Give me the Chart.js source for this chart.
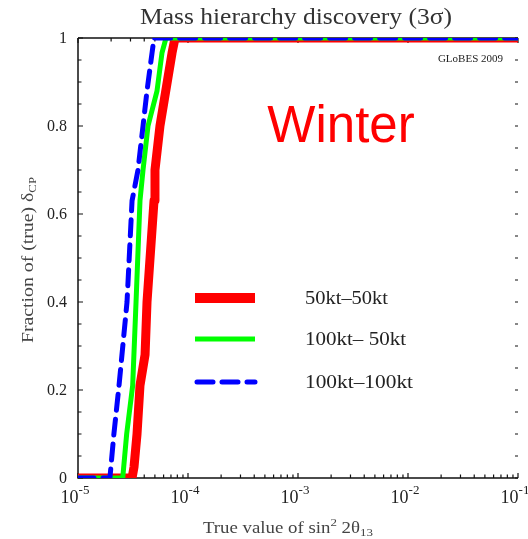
<!DOCTYPE html>
<html>
<head>
<meta charset="utf-8">
<script src="https://cdn.jsdelivr.net/npm/chart.js@4/dist/chart.umd.min.js"></script>
<style>
  html, body { margin: 0; padding: 0; background: #fff; }
  #wrap { width: 528px; height: 539px; }
</style>
</head>
<body>
<div id="wrap"><canvas id="chart" width="528" height="539"></canvas></div>
<script>
// Axis ticks
const xDecades = [1e-5, 1e-4, 1e-3, 1e-2, 1e-1];
const xExponents = ['-5', '-4', '-3', '-2', '-1'];
const yTicks = [0, 0.2, 0.4, 0.6, 0.8, 1];
const yTickLabels = ['0', '0.2', '0.4', '0.6', '0.8', '1'];

// Series: true sin^2 2theta13 vs fraction of delta_CP
const seriesNames = ['50kt\u201350kt', '100kt\u2013 50kt', '100kt\u2013100kt'];
const redX = [1e-5, 3.10e-5, 3.23e-5, 3.44e-5, 3.66e-5, 4.07e-5, 4.24e-5, 4.91e-5, 5.01e-5, 5.56e-5, 7.16e-5, 7.62e-5, 1e-1];
const redY = [0, 0, 0.025, 0.10, 0.21, 0.28, 0.40, 0.63, 0.70, 0.80, 0.966, 1, 1];
const greenX = [1e-5, 2.55e-5, 2.77e-5, 3.14e-5, 3.37e-5, 3.66e-5, 3.90e-5, 4.33e-5, 5.23e-5, 5.80e-5, 6.31e-5, 1e-1];
const greenY = [0, 0, 0.10, 0.21, 0.40, 0.63, 0.70, 0.80, 0.88, 0.966, 1, 1];
const blueX = [1e-5, 1.95e-5, 2.12e-5, 2.36e-5, 2.79e-5, 3.10e-5, 3.51e-5, 3.90e-5, 4.24e-5, 4.71e-5, 4.91e-5, 1e-1];
const blueY = [0, 0, 0.10, 0.21, 0.40, 0.63, 0.70, 0.80, 0.88, 0.966, 1, 1];

const serif = '"Liberation Serif", "DejaVu Serif", serif';

function toPoints(xs, ys) {
  return xs.map((x, i) => ({ x: x, y: ys[i] }));
}

// draws a run of [text, size, dy] pieces squeezed/stretched to a given width, centred on cx
function fillRun(ctx, pieces, cx, y, width) {
  let natural = 0;
  pieces.forEach(p => {
    ctx.font = p[1] + 'px ' + serif;
    natural += ctx.measureText(p[0]).width;
  });
  const k = width / natural;
  ctx.save();
  ctx.translate(cx - width / 2, y);
  ctx.scale(k, 1);
  ctx.textAlign = 'left';
  ctx.textBaseline = 'alphabetic';
  let x = 0;
  pieces.forEach(p => {
    ctx.font = p[1] + 'px ' + serif;
    ctx.fillText(p[0], x, p[2]);
    x += ctx.measureText(p[0]).width;
  });
  ctx.restore();
}

// Frame and inward ticks, under the curves
const frame = {
  id: 'frame',
  beforeDatasetsDraw(chart) {
    const ctx = chart.ctx;
    const area = chart.chartArea;
    const xs = chart.scales.x;
    const ys = chart.scales.y;
    ctx.save();
    ctx.strokeStyle = '#111';
    ctx.lineWidth = 1.5;
    ctx.beginPath();
    ctx.moveTo(area.left, area.top);
    ctx.lineTo(area.left, area.bottom);
    ctx.lineTo(area.right, area.bottom);
    ctx.moveTo(area.left, area.top);
    ctx.lineTo(area.right, area.top);
    ctx.stroke();

    ctx.lineWidth = 1.2;
    ctx.beginPath();
    for (let d = 0; d < xDecades.length; d++) {
      const mults = d === xDecades.length - 1 ? [1] : [1, 2, 3, 4, 5, 6, 7, 8, 9];
      mults.forEach(m => {
        const px = xs.getPixelForValue(xDecades[d] * m);
        const len = m === 1 ? 5 : 3.5;
        ctx.moveTo(px, area.bottom);
        ctx.lineTo(px, area.bottom - len);
        ctx.moveTo(px, area.top);
        ctx.lineTo(px, area.top + len);
      });
    }
    for (let i = 0; i <= 20; i++) {
      const py = ys.getPixelForValue(i * 0.05);
      const len = i % 4 === 0 ? 5 : 3.5;
      ctx.moveTo(area.left, py);
      ctx.lineTo(area.left + len, py);
      ctx.moveTo(area.right, py);
      ctx.lineTo(area.right - 3, py);
    }
    ctx.stroke();
    ctx.restore();
  }
};

// Tick labels, titles, stamp and legend
const decorations = {
  id: 'decorations',
  afterDatasetsDraw(chart) {
    const ctx = chart.ctx;
    const xs = chart.scales.x;
    const ys = chart.scales.y;
    ctx.save();

    // x tick labels 10^n
    ctx.fillStyle = '#222';
    ctx.textBaseline = 'alphabetic';
    xDecades.forEach((v, i) => {
      const px = xs.getPixelForValue(v) - 3;
      ctx.font = '18px ' + serif;
      const wBase = ctx.measureText('10').width;
      ctx.font = '13px ' + serif;
      const wExp = ctx.measureText(xExponents[i]).width;
      const start = px - (wBase + wExp) / 2;
      ctx.font = '18px ' + serif;
      ctx.textAlign = 'left';
      ctx.fillText('10', start, 503);
      ctx.font = '13px ' + serif;
      ctx.fillText(xExponents[i], start + wBase, 494);
    });

    // y tick labels
    ctx.font = '16px ' + serif;
    ctx.textAlign = 'right';
    ctx.textBaseline = 'middle';
    yTicks.forEach((v, i) => {
      ctx.fillText(yTickLabels[i], 67, ys.getPixelForValue(v) + 1);
    });
    ctx.textBaseline = 'alphabetic';

    // title
    ctx.fillStyle = '#333';
    fillRun(ctx, [['Mass hierarchy discovery (3\u03c3)', 23, 0]], 296, 24, 312);

    // x axis title
    ctx.fillStyle = '#444';
    fillRun(ctx, [
      ['True value of sin', 16, 0],
      ['2', 11, -7],
      [' 2\u03b8', 16, 0],
      ['13', 11, 3]
    ], 288, 533, 170);

    // y axis title
    ctx.save();
    ctx.translate(33, 260);
    ctx.rotate(-Math.PI / 2);
    fillRun(ctx, [
      ['Fraction of (true) \u03b4', 17, 0],
      ['CP', 11, 3]
    ], 0, 0, 166);
    ctx.restore();

    // GLoBES stamp
    ctx.fillStyle = '#222';
    ctx.font = '11px ' + serif;
    ctx.textAlign = 'right';
    ctx.fillText('GLoBES 2009', 503, 62);

    // Winter
    ctx.fillStyle = '#ff0000';
    ctx.font = '51px "Liberation Sans", Arial, sans-serif';
    ctx.textAlign = 'center';
    ctx.fillText('Winter', 341, 142);

    // legend
    const rows = [298, 339, 382];
    const labelWidths = [83, 101, 108];
    chart.data.datasets.forEach((ds, i) => {
      ctx.strokeStyle = ds.borderColor;
      ctx.lineWidth = ds.legendWidth;
      ctx.lineCap = ds.borderDash.length ? 'round' : 'butt';
      ctx.setLineDash(ds.borderDash);
      ctx.beginPath();
      ctx.moveTo(i === 2 ? 197 : 195, rows[i]);
      ctx.lineTo(255, rows[i]);
      ctx.stroke();
      ctx.setLineDash([]);
      ctx.fillStyle = '#222';
      fillRun(ctx, [[seriesNames[i], 19, 0]], 305 + labelWidths[i] / 2, rows[i] + 6, labelWidths[i]);
    });

    ctx.restore();
  }
};

new Chart(document.getElementById('chart'), {
  type: 'line',
  data: {
    datasets: [
      {
        label: seriesNames[0],
        data: toPoints(redX, redY),
        borderColor: '#ff0000',
        borderWidth: 9,
        legendWidth: 10,
        borderDash: [],
        borderJoinStyle: 'round',
        order: 3
      },
      {
        label: seriesNames[1],
        data: toPoints(greenX, greenY),
        borderColor: '#00ff00',
        borderWidth: 5,
        legendWidth: 5,
        borderDash: [],
        borderJoinStyle: 'round',
        order: 2
      },
      {
        label: seriesNames[2],
        data: toPoints(blueX, blueY),
        borderColor: '#0000ff',
        borderWidth: 5,
        legendWidth: 5,
        borderDash: [16, 9],
        borderCapStyle: 'round',
        borderJoinStyle: 'round',
        order: 1
      }
    ]
  },
  options: {
    responsive: false,
    animation: false,
    clip: 0,
    layout: { padding: { left: 78, right: 10, top: 38, bottom: 61 } },
    elements: {
      point: { radius: 0 },
      line: { tension: 0, fill: false }
    },
    scales: {
      x: { type: 'logarithmic', min: 1e-5, max: 1e-1, display: false },
      y: { type: 'linear', min: 0, max: 1, display: false }
    },
    plugins: {
      legend: { display: false },
      title: { display: false },
      tooltip: { enabled: false }
    }
  },
  plugins: [frame, decorations]
});
</script>
</body>
</html>
